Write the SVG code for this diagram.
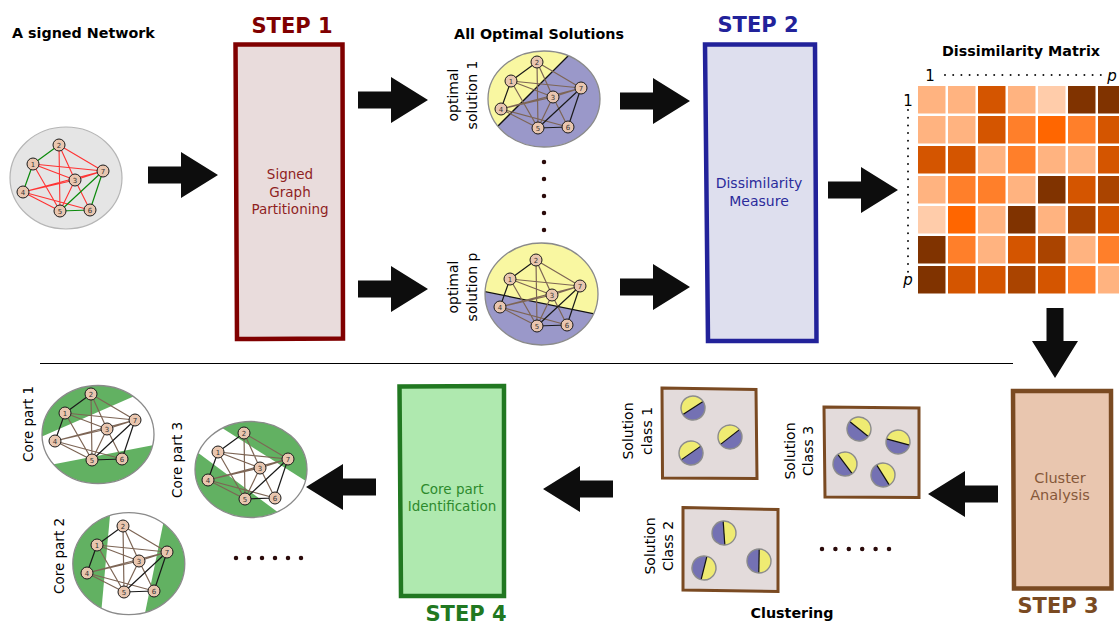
<svg xmlns="http://www.w3.org/2000/svg" xmlns:xlink="http://www.w3.org/1999/xlink" width="1119" height="626" viewBox="0 0 1119 626">
<style>
text{font-family:"DejaVu Sans","Liberation Sans",sans-serif}
.ttl{font-weight:bold;font-size:14.3px;fill:#000}
.step{font-weight:bold;font-size:21px;text-anchor:middle}
.box{stroke-width:4.5;stroke-linejoin:miter}
.bt{font-size:13.5px;text-anchor:middle}
.rl{font-size:14px;text-anchor:middle;fill:#000}
.cl{font-size:13.5px;text-anchor:middle;fill:#000}
.nd circle{fill:#e9c6af;stroke:#1a1a1a;stroke-width:1}
.nd text{font-size:7px;text-anchor:middle;fill:#333}
.pos{stroke:#1a1a1a;stroke-width:1.2;fill:none}
.neg{stroke:#7d6555;stroke-width:1.2;fill:none}
.gpos{stroke:#0b8a0b;stroke-width:1.2;fill:none}
.gneg{stroke:#ff3333;stroke-width:1.1;fill:none}
.arrow{fill:#0d0d0d}
.rim{fill:none;stroke:#8a8a8a;stroke-width:1.3}
.yel{fill:#f9f7a1}
.pur{fill:#9a98c9}
.grn{fill:#62b162}
.cbox{fill:#e3dbdb;stroke:#7a4a22;stroke-width:3}
.pie .p{fill:#7471b3}
.pie .y{fill:#efeb72}
.pie line{stroke:#111;stroke-width:1.2}
.pie .o{fill:none;stroke:#8c8c8c;stroke-width:1.4}
.c1{fill:#ffccaa}.c2{fill:#ffb380}.c3{fill:#ff7f2a}.c4{fill:#ff6600}.c5{fill:#d45500}.c6{fill:#aa4400}.c7{fill:#803300}
.dots{stroke:#2b0b0b;stroke-linecap:round;fill:none}
.mdots{stroke:#111;stroke-width:2;stroke-linecap:round;fill:none}
</style>
<defs>
<path id="arr" d="M0,-8.5 H33 V-23 L70,0 L33,23 V8.5 H0 Z"/>
<g id="nodes" class="nd">
<g><circle cx="-33" cy="-18" r="6"/><text x="-33" y="-15.5">1</text></g>
<g><circle cx="-7" cy="-37" r="6"/><text x="-7" y="-34.5">2</text></g>
<g><circle cx="9" cy="-2" r="6"/><text x="9" y="0.5">3</text></g>
<g><circle cx="-43" cy="10" r="6"/><text x="-43" y="12.5">4</text></g>
<g><circle cx="-6" cy="29" r="6"/><text x="-6" y="31.5">5</text></g>
<g><circle cx="24" cy="28" r="6"/><text x="24" y="30.5">6</text></g>
<g><circle cx="37" cy="-11" r="6"/><text x="37" y="-8.5">7</text></g>
</g>
<path id="negE" d="M-33,-18 L37,-11 M-33,-18 L9,-2 M-33,-18 L-6,29 M-7,-37 L37,-11 M-7,-37 L-6,29 M-7,-37 L9,-2 M9,-2 L-43,10 M-43,10 L37,-11 M-43,10 L-6,29 M-43,10 L24,28 M9,-2 L-6,29 M9,-2 L24,28 M9,-2 L37,-11"/>
<path id="posE" d="M-33,-18 L-7,-37 M-33,-18 L-43,10 M-6,29 L24,28 M-6,29 L37,-11 M24,28 L37,-11"/>
<g id="gbw">
<use xlink:href="#negE" class="neg"/>
<use xlink:href="#posE" class="pos"/>
<use xlink:href="#nodes"/>
</g>
<g id="pie" class="pie">
<circle class="p" r="12"/>
<path class="y" d="M-12,0 A12,12 0 0 1 12,0 Z"/>
<line x1="-12" y1="0" x2="12" y2="0"/>
<circle class="o" r="12"/>
</g>
<clipPath id="cS1"><ellipse cx="544" cy="99" rx="56" ry="48"/></clipPath>
<clipPath id="cSp"><ellipse cx="541.5" cy="294" rx="56.5" ry="51"/></clipPath>
<clipPath id="cC1"><ellipse cx="98" cy="434.5" rx="56" ry="49"/></clipPath>
<clipPath id="cC2"><ellipse cx="128.8" cy="563.7" rx="56" ry="51"/></clipPath>
<clipPath id="cC3"><ellipse cx="251" cy="469.5" rx="56" ry="48"/></clipPath>
</defs>

<rect width="1119" height="626" fill="#ffffff"/>

<!-- titles -->
<text class="ttl" x="12" y="38">A signed Network</text>
<text class="ttl" x="539" y="39" text-anchor="middle">All Optimal Solutions</text>
<text class="ttl" x="1021" y="56" text-anchor="middle">Dissimilarity Matrix</text>
<text class="ttl" x="792" y="618" text-anchor="middle">Clustering</text>

<!-- separator -->
<line x1="40" y1="363.5" x2="1013" y2="363.5" stroke="#000" stroke-width="1"/>

<!-- signed network -->
<g id="signed-network">
<ellipse cx="66" cy="178" rx="56" ry="51" fill="#e5e5e5" stroke="#b5b5b5" stroke-width="1.2"/>
<g transform="translate(66,182)">
<use xlink:href="#negE" class="gneg"/>
<use xlink:href="#posE" class="gpos"/>
<use xlink:href="#nodes"/>
</g>
</g>

<!-- step 1 -->
<g id="step1">
<text class="step" x="292" y="33" fill="#800000">STEP 1</text>
<polygon class="box" points="235.5,44.5 342.5,44.5 343,338.5 237,339" fill="#e9dcdc" stroke="#800000"/>
<text class="bt" fill="#8f1f1f"><tspan x="290" y="179">Signed</tspan><tspan x="290" y="196.5">Graph</tspan><tspan x="290" y="214">Partitioning</tspan></text>
</g>

<!-- optimal solution 1 -->
<g id="solution-1">
<g clip-path="url(#cS1)">
<ellipse class="yel" cx="544" cy="99" rx="56" ry="48"/>
<polygon class="pur" points="614,10 456,168 640,168 640,10"/>
<line x1="614" y1="10" x2="456" y2="168" stroke="#111" stroke-width="1.3"/>
</g>
<ellipse class="rim" cx="544" cy="99" rx="56" ry="48"/>
<use xlink:href="#gbw" transform="translate(544,99)"/>
<text class="rl" transform="translate(458,95) rotate(-90)"><tspan x="0" y="0">optimal</tspan><tspan x="0" y="19">solution 1</tspan></text>
</g>

<!-- vertical ellipsis -->
<line class="dots" x1="544" y1="162" x2="544" y2="230.5" stroke-width="4.5" stroke-dasharray="0 17"/>

<!-- optimal solution p -->
<g id="solution-p">
<g clip-path="url(#cSp)">
<ellipse class="yel" cx="541.5" cy="294" rx="56.5" ry="51"/>
<polygon class="pur" points="470,288.6 620,319 620,360 470,360"/>
<line x1="470" y1="288.6" x2="620" y2="319" stroke="#111" stroke-width="1.3"/>
</g>
<ellipse class="rim" cx="541.5" cy="294" rx="56.5" ry="51"/>
<use xlink:href="#gbw" transform="translate(543,297)"/>
<text class="rl" transform="translate(458,287) rotate(-90)"><tspan x="0" y="0">optimal</tspan><tspan x="0" y="19">solution p</tspan></text>
</g>

<!-- step 2 -->
<g id="step2">
<text class="step" x="758" y="32" fill="#22229a">STEP 2</text>
<polygon class="box" points="705,44.5 815,44.5 816.5,341 708,341" fill="#dedfee" stroke="#22229a"/>
<text class="bt" fill="#2b2b9b" style="font-size:14px"><tspan x="759" y="188">Dissimilarity</tspan><tspan x="759" y="206">Measure</tspan></text>
</g>

<!-- dissimilarity matrix -->
<g id="matrix">
<text x="930" y="81" font-size="15" text-anchor="middle">1</text>
<text x="1112" y="81" font-size="15" text-anchor="middle" font-style="italic">p</text>
<text x="908" y="106" font-size="15" text-anchor="middle">1</text>
<text x="908" y="285" font-size="15" text-anchor="middle" font-style="italic">p</text>
<line class="mdots" x1="945" y1="75" x2="1101" y2="75" stroke-dasharray="0 8.2"/>
<line class="mdots" x1="908" y1="110" x2="908" y2="272" stroke-dasharray="0 7.7"/>
<g>
<rect class="c2" x="918" y="86" width="27.5" height="27.5"/><rect class="c2" x="948" y="86" width="27.5" height="27.5"/><rect class="c5" x="978" y="86" width="27.5" height="27.5"/><rect class="c2" x="1008" y="86" width="27.5" height="27.5"/><rect class="c1" x="1038" y="86" width="27.5" height="27.5"/><rect class="c7" x="1068" y="86" width="27.5" height="27.5"/><rect class="c7" x="1098" y="86" width="27.5" height="27.5"/>
<rect class="c2" x="918" y="116" width="27.5" height="27.5"/><rect class="c2" x="948" y="116" width="27.5" height="27.5"/><rect class="c5" x="978" y="116" width="27.5" height="27.5"/><rect class="c3" x="1008" y="116" width="27.5" height="27.5"/><rect class="c4" x="1038" y="116" width="27.5" height="27.5"/><rect class="c3" x="1068" y="116" width="27.5" height="27.5"/><rect class="c5" x="1098" y="116" width="27.5" height="27.5"/>
<rect class="c5" x="918" y="146" width="27.5" height="27.5"/><rect class="c5" x="948" y="146" width="27.5" height="27.5"/><rect class="c2" x="978" y="146" width="27.5" height="27.5"/><rect class="c3" x="1008" y="146" width="27.5" height="27.5"/><rect class="c2" x="1038" y="146" width="27.5" height="27.5"/><rect class="c2" x="1068" y="146" width="27.5" height="27.5"/><rect class="c5" x="1098" y="146" width="27.5" height="27.5"/>
<rect class="c2" x="918" y="176" width="27.5" height="27.5"/><rect class="c3" x="948" y="176" width="27.5" height="27.5"/><rect class="c3" x="978" y="176" width="27.5" height="27.5"/><rect class="c2" x="1008" y="176" width="27.5" height="27.5"/><rect class="c7" x="1038" y="176" width="27.5" height="27.5"/><rect class="c5" x="1068" y="176" width="27.5" height="27.5"/><rect class="c6" x="1098" y="176" width="27.5" height="27.5"/>
<rect class="c1" x="918" y="206" width="27.5" height="27.5"/><rect class="c4" x="948" y="206" width="27.5" height="27.5"/><rect class="c2" x="978" y="206" width="27.5" height="27.5"/><rect class="c7" x="1008" y="206" width="27.5" height="27.5"/><rect class="c2" x="1038" y="206" width="27.5" height="27.5"/><rect class="c6" x="1068" y="206" width="27.5" height="27.5"/><rect class="c5" x="1098" y="206" width="27.5" height="27.5"/>
<rect class="c7" x="918" y="236" width="27.5" height="27.5"/><rect class="c3" x="948" y="236" width="27.5" height="27.5"/><rect class="c2" x="978" y="236" width="27.5" height="27.5"/><rect class="c5" x="1008" y="236" width="27.5" height="27.5"/><rect class="c6" x="1038" y="236" width="27.5" height="27.5"/><rect class="c2" x="1068" y="236" width="27.5" height="27.5"/><rect class="c3" x="1098" y="236" width="27.5" height="27.5"/>
<rect class="c7" x="918" y="266" width="27.5" height="27.5"/><rect class="c5" x="948" y="266" width="27.5" height="27.5"/><rect class="c5" x="978" y="266" width="27.5" height="27.5"/><rect class="c6" x="1008" y="266" width="27.5" height="27.5"/><rect class="c5" x="1038" y="266" width="27.5" height="27.5"/><rect class="c3" x="1068" y="266" width="27.5" height="27.5"/><rect class="c2" x="1098" y="266" width="27.5" height="27.5"/>
</g>
</g>

<!-- step 3 -->
<g id="step3">
<polygon class="box" points="1013,391 1111,391 1111.5,588.5 1014,588.5" fill="#e9c6af" stroke="#7a4a22"/>
<text class="bt" fill="#86583a" style="font-size:14.5px"><tspan x="1060" y="483">Cluster</tspan><tspan x="1060" y="500">Analysis</tspan></text>
<text class="step" x="1058" y="613" fill="#7a4a22">STEP 3</text>
</g>

<!-- solution classes -->
<g id="class-1">
<polygon class="cbox" points="662,388 756,389.5 757,478.5 662.5,478"/>
<use xlink:href="#pie" transform="translate(693,408) rotate(-33)"/>
<use xlink:href="#pie" transform="translate(730,437) rotate(-38)"/>
<use xlink:href="#pie" transform="translate(691,453) rotate(-35)"/>
<text class="rl" transform="translate(633,431) rotate(-90)"><tspan x="0" y="0">Solution</tspan><tspan x="0" y="19">class 1</tspan></text>
</g>
<g id="class-2">
<polygon class="cbox" points="683,507.5 778,509.5 778,591.5 683,590"/>
<use xlink:href="#pie" transform="translate(724,533) rotate(86)"/>
<use xlink:href="#pie" transform="translate(759,561) rotate(91)"/>
<use xlink:href="#pie" transform="translate(704,568) rotate(104)"/>
<text class="rl" transform="translate(655,546) rotate(-90)"><tspan x="0" y="0">Solution</tspan><tspan x="0" y="18">Class 2</tspan></text>
</g>
<g id="class-3">
<polygon class="cbox" points="824,407 919,408 919,497.5 825,497"/>
<use xlink:href="#pie" transform="translate(859,429) rotate(39)"/>
<use xlink:href="#pie" transform="translate(898,442) rotate(15)"/>
<use xlink:href="#pie" transform="translate(845,464) rotate(53)"/>
<use xlink:href="#pie" transform="translate(883,475) rotate(58)"/>
<text class="rl" transform="translate(795,451) rotate(-90)"><tspan x="0" y="0">Solution</tspan><tspan x="0" y="18">Class 3</tspan></text>
</g>
<line class="dots" x1="822" y1="549" x2="889.5" y2="549" stroke-width="4.5" stroke-dasharray="0 13.4"/>

<!-- step 4 -->
<g id="step4">
<polygon class="box" points="399.5,386.5 504,386 504,596 401,596" fill="#afe9af" stroke="#217821"/>
<text class="bt" fill="#2d8a2d"><tspan x="452" y="494">Core part</tspan><tspan x="452" y="511">Identification</tspan></text>
<text class="step" x="466" y="621" fill="#217821">STEP 4</text>
</g>

<!-- core parts -->
<g id="core-1">
<g clip-path="url(#cC1)">
<ellipse cx="98" cy="434.5" rx="56" ry="49" fill="#ffffff"/>
<polygon class="grn" points="30,441.8 170,380.4 170,370 30,370"/>
<polygon class="grn" points="30,468.8 170,441.8 170,500 30,500"/>
</g>
<ellipse class="rim" cx="98" cy="434.5" rx="56" ry="49"/>
<use xlink:href="#gbw" transform="translate(98,431)"/>
<text class="cl" transform="translate(33,424) rotate(-90)">Core part 1</text>
</g>
<g id="core-2">
<g clip-path="url(#cC2)">
<ellipse cx="128.8" cy="563.7" rx="56" ry="51" fill="#ffffff"/>
<polygon class="grn" points="111.4,500 99.6,630 60,630 60,500"/>
<polygon class="grn" points="168,500 141.6,630 200,630 200,500"/>
</g>
<ellipse class="rim" cx="128.8" cy="563.7" rx="56" ry="51"/>
<use xlink:href="#gbw" transform="translate(130,563)"/>
<text class="cl" transform="translate(64,556) rotate(-90)">Core part 2</text>
</g>
<g id="core-3">
<g clip-path="url(#cC3)">
<ellipse cx="251" cy="469.5" rx="56" ry="48" fill="#ffffff"/>
<polygon class="grn" points="180,401.3 320,490.1 320,380 180,380"/>
<polygon class="grn" points="180,439.3 320,543.6 320,560 180,560"/>
</g>
<ellipse class="rim" cx="251" cy="469.5" rx="56" ry="48"/>
<use xlink:href="#gbw" transform="translate(251,470)"/>
<text class="cl" transform="translate(182,460) rotate(-90)">Core part 3</text>
</g>
<line class="dots" x1="236" y1="558" x2="301.5" y2="558" stroke-width="4.5" stroke-dasharray="0 13"/>

<!-- connectors -->
<g id="connectors" class="arrow">
<use xlink:href="#arr" transform="translate(148,175)"/>
<use xlink:href="#arr" transform="translate(358,100)"/>
<use xlink:href="#arr" transform="translate(358,289)"/>
<use xlink:href="#arr" transform="translate(620,101)"/>
<use xlink:href="#arr" transform="translate(620,287)"/>
<use xlink:href="#arr" transform="translate(828,190)"/>
<use xlink:href="#arr" transform="translate(1055,308) rotate(90)"/>
<use xlink:href="#arr" transform="translate(998,494) scale(-1,1)"/>
<use xlink:href="#arr" transform="translate(613,489) scale(-1,1)"/>
<use xlink:href="#arr" transform="translate(376,487) scale(-1,1)"/>
</g>
</svg>
